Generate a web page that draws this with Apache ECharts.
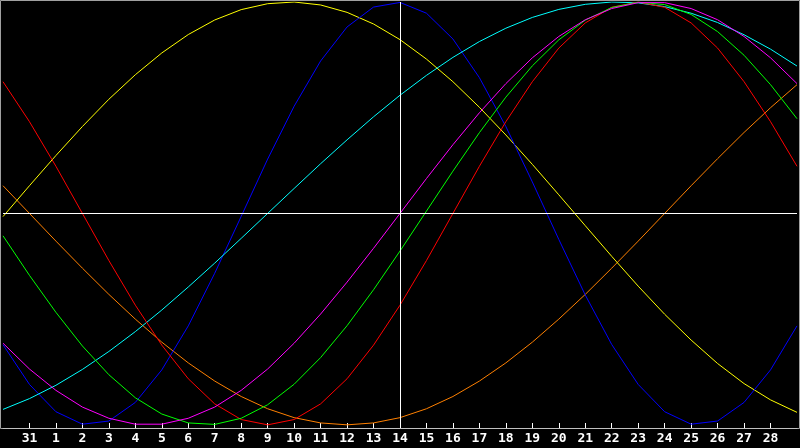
<!DOCTYPE html>
<html>
<head>
<meta charset="utf-8">
<script src="https://cdn.jsdelivr.net/npm/echarts@6/dist/echarts.min.js"></script>
<style>
html,body{margin:0;padding:0;background:#000;}
#chart{width:800px;height:448px;}
</style>
</head>
<body>
<div id="chart"></div>
<script>
const days = ['30','31','1','2','3','4','5','6','7','8','9','10','11','12','13','14','15','16','17','18','19','20','21','22','23','24','25','26','27','28','29'];
const today = '14';

const redValues = [0.623,0.434,0.223,0.000,-0.223,-0.434,-0.623,-0.782,-0.901,-0.975,-1.000,-0.975,-0.901,-0.782,-0.623,-0.434,-0.223,0.000,0.223,0.434,0.623,0.782,0.901,0.975,1.000,0.975,0.901,0.782,0.623,0.434,0.223];
const greenValues = [-0.106,-0.293,-0.468,-0.627,-0.763,-0.872,-0.949,-0.991,-0.998,-0.969,-0.905,-0.808,-0.682,-0.531,-0.361,-0.178,0.011,0.200,0.382,0.550,0.698,0.821,0.914,0.974,0.999,0.988,0.941,0.860,0.748,0.609,0.448];
const blueValues = [-0.621,-0.809,-0.938,-0.997,-0.982,-0.894,-0.740,-0.532,-0.283,-0.014,0.257,0.507,0.721,0.882,0.976,0.998,0.947,0.825,0.642,0.411,0.149,-0.123,-0.386,-0.620,-0.809,-0.938,-0.997,-0.982,-0.894,-0.740,-0.532];
const yellowValues = [-0.015,0.131,0.274,0.411,0.540,0.656,0.759,0.846,0.915,0.964,0.992,1.000,0.986,0.951,0.896,0.822,0.730,0.623,0.502,0.371,0.232,0.088,-0.058,-0.203,-0.344,-0.477,-0.599,-0.710,-0.805,-0.882,-0.941];
const cyanValues = [-0.927,-0.876,-0.813,-0.738,-0.653,-0.559,-0.457,-0.348,-0.235,-0.118,0.000,0.118,0.235,0.348,0.457,0.559,0.653,0.738,0.813,0.876,0.927,0.965,0.989,1.000,0.996,0.978,0.947,0.903,0.845,0.777,0.697];
const magentaValues = [-0.614,-0.736,-0.837,-0.916,-0.969,-0.997,-0.997,-0.969,-0.916,-0.837,-0.736,-0.614,-0.476,-0.325,-0.165,0.000,0.165,0.325,0.476,0.614,0.736,0.837,0.916,0.969,0.997,0.997,0.969,0.916,0.837,0.736,0.614];
const orangeValues = [0.131,0.000,-0.131,-0.259,-0.383,-0.500,-0.609,-0.707,-0.793,-0.866,-0.924,-0.966,-0.991,-1.000,-0.991,-0.966,-0.924,-0.866,-0.793,-0.707,-0.609,-0.500,-0.383,-0.259,-0.131,0.000,0.131,0.259,0.383,0.500,0.609];

const seriesDefs = [
  {name:'orange', data: orangeValues, color:'#ff8000'},
  {name:'yellow', data: yellowValues, color:'#ffff00'},
  {name:'blue', data: blueValues, color:'#0000ff'},
  {name:'cyan', data: cyanValues, color:'#00ffff'},
  {name:'red', data: redValues, color:'#ff0000'},
  {name:'green', data: greenValues, color:'#00ff00'},
  {name:'magenta', data: magentaValues, color:'#ff00ff'}
];

const chart = echarts.init(document.getElementById('chart'));
const series = seriesDefs.map((s) => ({
  name: s.name,
  type: 'line',
  data: s.data,
  symbol: 'none',
  smooth: false,
  lineStyle: {color: s.color, width: 1},
  itemStyle: {color: s.color},
  z: 3
}));
series.push({
  name: 'ref',
  type: 'line',
  data: [],
  markLine: {
    silent: true,
    symbol: 'none',
    label: {show: false},
    lineStyle: {color: '#ffffff', width: 1, type: 'solid'},
    data: [{xAxis: today}, {yAxis: 0}]
  },
  z: 2
});

const lastIdx = days.length - 1;
chart.setOption({
  animation: false,
  backgroundColor: '#000000',
  grid: {left: 0, right: 0, top: 2, bottom: 20, containLabel: false},
  xAxis: {
    type: 'category',
    data: days,
    boundaryGap: false,
    axisLine: {show: true, onZero: false, lineStyle: {color: '#c0c0c0', width: 1}},
    axisTick: {
      show: true, inside: true, length: 5,
      interval: function (i) { return i > 0 && i < lastIdx; },
      lineStyle: {color: '#ffffff'}
    },
    axisLabel: {
      show: true, interval: 0, color: '#ffffff', fontWeight: 'bold',
      fontFamily: 'DejaVu Sans Mono', fontSize: 13, margin: 4,
      showMinLabel: false, showMaxLabel: false,
      formatter: function (v, i) { return (i === 0 || i === lastIdx) ? '' : v; }
    },
    splitLine: {show: false}
  },
  yAxis: {
    type: 'value', min: -1.015, max: 1,
    show: false, splitLine: {show: false}
  },
  graphic: [{
    type: 'rect',
    shape: {x: 0.5, y: 0.5, width: 799, height: 428},
    style: {fill: 'none', stroke: '#a0a0a0', lineWidth: 1},
    silent: true, z: 0
  }],
  series: series
});
</script>
</body>
</html>
